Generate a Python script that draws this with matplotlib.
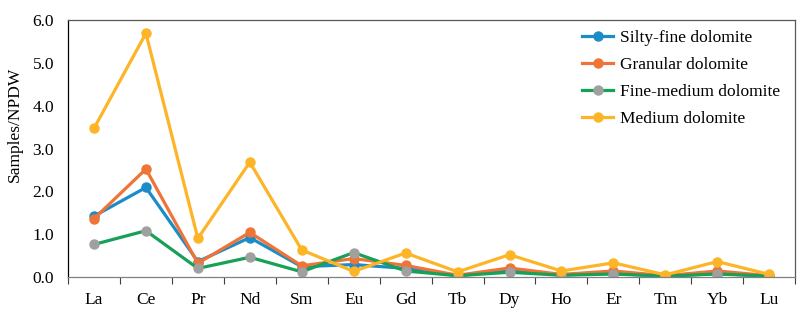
import numpy as np
import matplotlib.pyplot as plt

plt.rcParams['font.family'] = ['Liberation Serif', 'DejaVu Serif']

# REE categories and normalised values (Samples/NPDW)
elements = ["La", "Ce", "Pr", "Nd", "Sm", "Eu", "Gd", "Tb", "Dy", "Ho", "Er", "Tm", "Yb", "Lu"]
silty_fine = [1.42, 2.09, 0.36, 0.92, 0.24, 0.29, 0.20, 0.03, 0.15, 0.05, 0.08, 0.02, 0.08, 0.02]
granular = [1.36, 2.52, 0.32, 1.04, 0.26, 0.43, 0.27, 0.04, 0.21, 0.06, 0.14, 0.03, 0.14, 0.03]
fine_medium = [0.76, 1.08, 0.20, 0.46, 0.12, 0.57, 0.14, 0.03, 0.11, 0.04, 0.07, 0.02, 0.07, 0.02]
medium = [3.47, 5.69, 0.90, 2.68, 0.63, 0.13, 0.56, 0.12, 0.52, 0.14, 0.33, 0.05, 0.36, 0.06]

x = np.arange(len(elements))

fig = plt.figure(figsize=(8, 3.18), dpi=100)
ax = fig.add_axes([0.085, 0.129, 0.909, 0.808])

lw = 2.3
ms = 6.5
ax.plot(x, silty_fine, color="#1a8cc8", lw=lw, marker="o", ms=ms, label="Silty-fine dolomite")
ax.plot(x, granular, color="#ee7437", lw=lw, marker="o", ms=ms, label="Granular dolomite")
ax.plot(x, fine_medium, color="#16a157", lw=lw, marker="o", ms=ms,
        mfc="#a0a0a0", mec="#a0a0a0", label="Fine-medium dolomite")
ax.plot(x, medium, color="#fdb427", lw=lw, marker="o", ms=ms, label="Medium dolomite")

ax.set_xlim(-0.5, len(elements) - 0.5)
ax.set_ylim(0, 6)
ax.set_yticks(np.arange(0, 7, 1))
ax.set_yticklabels([f"{v:.1f}" for v in np.arange(0, 7, 1)], fontsize=12.5)
ax.tick_params(axis="y", length=0, pad=10)

ax.set_xticks(x)
ax.set_xticklabels(elements, fontsize=12.5)
ax.set_xticks(np.arange(-0.5, len(elements), 1), minor=True)
ax.tick_params(axis="x", which="major", length=0, pad=11)
ax.tick_params(axis="x", which="minor", length=5, width=0.8, color="#404040", direction="out")

ax.set_ylabel("Samples/NPDW", fontsize=12.5)
ax.yaxis.set_label_coords(-0.062, 0.595)

ax.spines["left"].set_color("black")
ax.spines["bottom"].set_color("#808080")
ax.spines["top"].set_color("#595959")
ax.spines["right"].set_color("#595959")
for s in ax.spines.values():
    s.set_linewidth(0.9)

ax.legend(loc="upper left", bbox_to_anchor=(0.728, 0.905), bbox_transform=fig.transFigure,
          frameon=False, fontsize=12.5, handlelength=1.75, handletextpad=0.4,
          labelspacing=0.62, borderpad=0, borderaxespad=0)

fig.savefig("out.png", dpi=100)
